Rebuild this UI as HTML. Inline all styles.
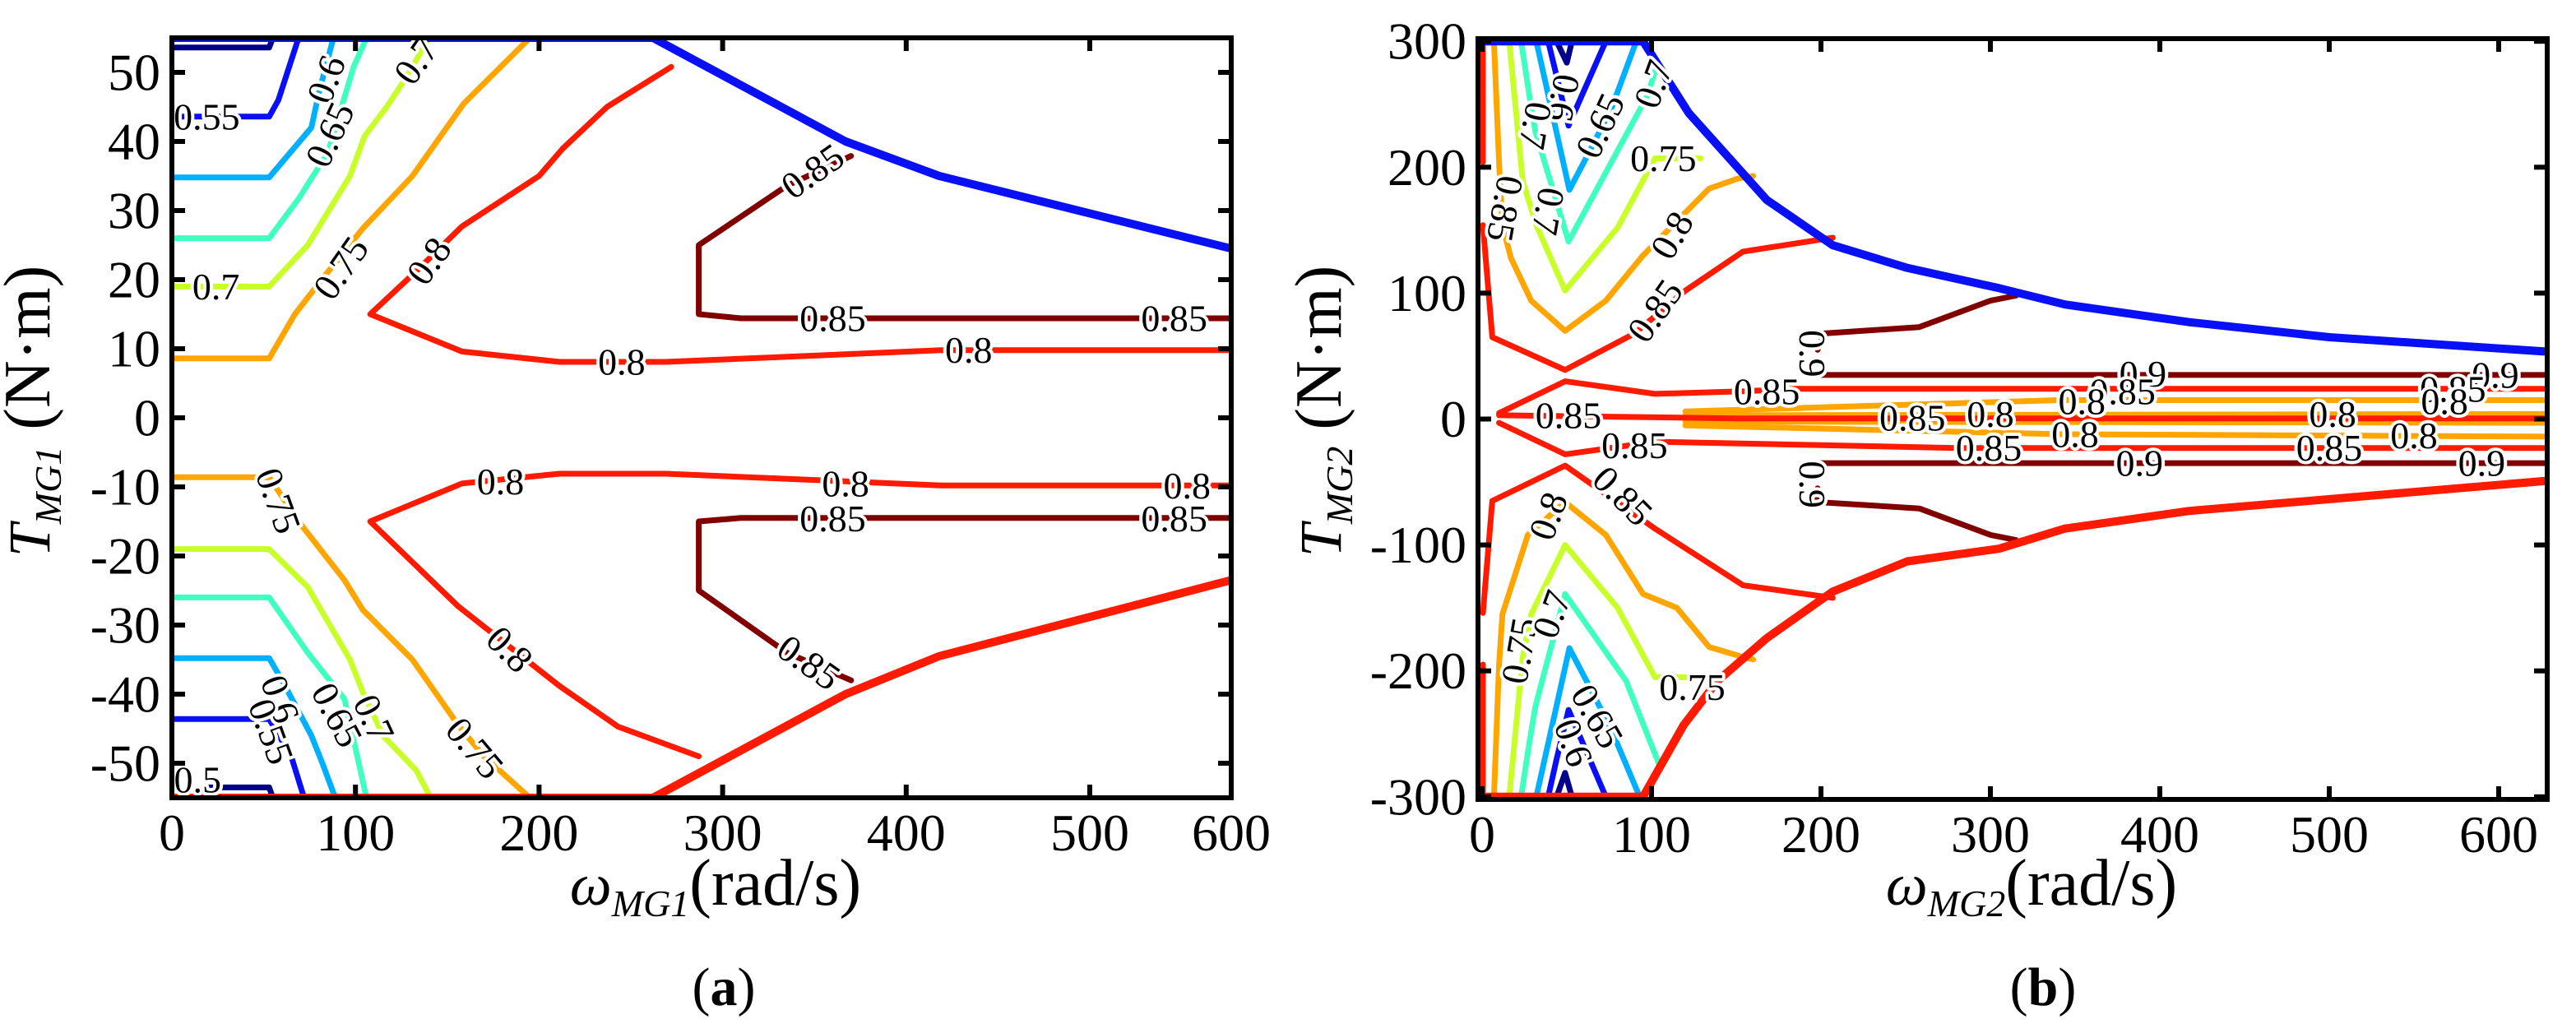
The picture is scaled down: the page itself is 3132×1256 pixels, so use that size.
<!DOCTYPE html>
<html><head><meta charset="utf-8">
<style>
html,body{margin:0;padding:0;background:#fff;}
svg{display:block;}
svg, svg text{font-family:"Liberation Serif","Times New Roman",Times,serif;}
text{fill:#000;}
.tick{font-size:64px;}
.cl{font-size:46px;paint-order:stroke;stroke:#fff;stroke-width:8px;stroke-linejoin:round;}
</style></head>
<body>
<svg id="fig" width="3132" height="1256" viewBox="0 0 3132 1256" xmlns="http://www.w3.org/2000/svg" font-family="Liberation Serif, Times New Roman, serif">
<defs>
<clipPath id="clipA"><rect x="209" y="46" width="1288" height="924"/></clipPath>
<clipPath id="clipB"><rect x="1797" y="47" width="1300" height="925"/></clipPath>
</defs>
<g id="panelA"></g>
<g id="panelB"></g>

<text x="60" y="500" transform="rotate(-90 60 500)" text-anchor="middle" font-size="72" font-family="Liberation Serif, serif"><tspan font-style="italic">T</tspan><tspan font-style="italic" font-size="46" dy="14">MG1</tspan><tspan dy="-14" font-size="80"> (N·m)</tspan></text>
<text x="870" y="1100" text-anchor="middle" font-size="72" font-family="Liberation Serif, serif"><tspan font-style="italic">ω</tspan><tspan font-style="italic" font-size="46" dy="14">MG1</tspan><tspan dy="-14" font-size="80">(rad/s)</tspan></text>
<text x="880" y="1222" text-anchor="middle" font-size="66" font-family="Liberation Serif, serif">(<tspan font-weight="bold">a</tspan>)</text>

<text x="1630" y="500" transform="rotate(-90 1630 500)" text-anchor="middle" font-size="72" font-family="Liberation Serif, serif"><tspan font-style="italic">T</tspan><tspan font-style="italic" font-size="46" dy="14">MG2</tspan><tspan dy="-14" font-size="80"> (N·m)</tspan></text>
<text x="2470" y="1100" text-anchor="middle" font-size="72" font-family="Liberation Serif, serif"><tspan font-style="italic">ω</tspan><tspan font-style="italic" font-size="46" dy="14">MG2</tspan><tspan dy="-14" font-size="80">(rad/s)</tspan></text>
<text x="2484" y="1222" text-anchor="middle" font-size="66" font-family="Liberation Serif, serif">(<tspan font-weight="bold">b</tspan>)</text>
</svg>
<script>
// ---------- Panel A data ----------
const aXTicks = [0,100,200,300,400,500,600];
const aYTicks = [-50,-40,-30,-20,-10,0,10,20,30,40,50];
const aLevels = [0.5,0.55,0.6,0.65,0.7,0.75,0.8,0.85];
const aBoundTop = [[0,55],[262,55],[367,40],[418,35],[577,24.5]];
const aBoundBot = [[0,-55],[262,-55],[367,-40],[418,-34.5],[577,-23.5]];
const aContours = [
 [0.5,[[0,53.6],[53,53.6],[55,55]]],
 [0.5,[[19,-53.5],[53,-53.5],[55,-55]]],
 [0.55,[[0,43.6],[53,43.6],[58,46],[69,55]]],
 [0.55,[[0,-43.6],[53,-43.6],[65,-49],[72,-55]]],
 [0.6,[[0,34.8],[53,34.8],[76,42],[80,47],[88,55]]],
 [0.6,[[0,-34.8],[53,-34.8],[60,-38],[76,-46],[82,-50],[89,-55]]],
 [0.65,[[0,26],[53,26],[69,31.7],[85,38.4],[99,50.8],[106,55]]],
 [0.65,[[0,-26],[53,-26],[74,-34],[94,-40.7],[101,-49],[106,-55]]],
 [0.7,[[0,19],[53,19],[74,25],[97,35],[105,40.8],[117,45],[127,49],[140,55]]],
 [0.7,[[0,-19],[53,-19],[74,-24.5],[97,-35],[104,-39.7],[115,-46],[133,-51],[141,-55]]],
 [0.75,[[0,8.6],[53,8.6],[67,15],[81,19.8],[104,27.4],[131,35],[159,45.5],[195,55]]],
 [0.75,[[0,-8.6],[53,-8.6],[69,-15],[94,-23.5],[104,-27.8],[131,-35],[156,-44.5],[170,-49],[195,-55]]],
 [0.8,[[272,50.8],[237,45],[213,39],[200,35],[158,27.7],[133,21.2],[108,15],[158,9.6],[211,8.1],[269,8.1],[420,9.8],[577,9.8]]],
 [0.8,[[287,-49],[243,-44.7],[211,-38.8],[156,-27.3],[108,-15],[158,-9.5],[211,-8.1],[269,-8.1],[420,-9.8],[577,-9.8]]],
 [0.85,[[370,37.9],[335,33.6],[287,25],[287,15],[310,14.4],[577,14.4]]],
 [0.85,[[370,-38],[335,-34],[287,-25],[287,-15],[310,-14.5],[577,-14.5]]]
];
const aLabels = [
 [19,43.6,'0.55',0],[84,49,'0.6',-70],[86,41,'0.65',-65],[133,51.7,'0.7',-55],[24,19,'0.7',0],
 [92,21.7,'0.75',-55],[140,22.7,'0.8',-55],[349,35.7,'0.85',-35],[360,14.4,'0.85',0],[546,14.4,'0.85',0],
 [245,8.1,'0.8',0],[434,9.8,'0.8',0],[179,-9.2,'0.8',0],[367,-9.5,'0.8',0],[553,-9.8,'0.8',0],
 [360,-14.6,'0.85',0],[546,-14.6,'0.85',0],[58,-12,'0.75',70],[184,-33.5,'0.8',45],[347,-35.4,'0.85',35],
 [59,-40.7,'0.6',70],[54,-45.4,'0.55',70],[90,-43,'0.65',62],[110,-43.5,'0.7',65],[165,-47.8,'0.75',50],[14,-52.4,'0.5',0]
];
// ---------- Panel B data ----------
const bXTicks = [0,100,200,300,400,500,600];
const bYTicks = [-300,-200,-100,0,100,200,300];
const bLevels = [0.55,0.6,0.65,0.7,0.75,0.8,0.85,0.9];
const bBoundTop = [[-3,300],[95,300],[122,243],[168,174],[207,138],[251,120],[305,104],[344,91],[417,77],[500,65],[629,53.5]];
const bBoundBot = [[-3,-300],[95,-300],[119,-243],[139,-208],[168,-174],[207,-137],[251,-113],[305,-103],[344,-87],[417,-73],[629,-49]];
const bContours = [
 [0.55,[[44,300],[50,283],[53,300]]],
 [0.55,[[44,-300],[49,-281],[53,-300]]],
 [0.6,[[39,300],[43.7,274],[51,233],[73,300]]],
 [0.6,[[39,-300],[44,-270],[51,-231],[73,-300]]],
 [0.65,[[32,300],[51.5,182],[63.6,213],[76.7,248],[91,300]]],
 [0.65,[[32,-300],[51.5,-182],[63.6,-213],[76.7,-248],[93,-300]]],
 [0.7,[[23,300],[28,256],[31.5,228],[51,141],[97.6,257],[103,280]]],
 [0.7,[[23,-300],[28,-256],[31.5,-228],[49,-139],[85,-208],[105,-276]]],
 [0.75,[[16,300],[24,189],[32,154],[49,102],[80,152],[102,207],[129,207]]],
 [0.75,[[16,-300],[24,-189],[29,-155],[49,-100],[80,-150],[102,-205],[124,-205]]],
 [0.8,[[7,300],[10,204],[12,154],[17,128],[29,94],[49,70],[73,94],[95,130],[134,183],[151,191],[160,193]]],
 [0.8,[[7,-300],[10,-195],[12,-155],[27,-92],[49,-66],[73,-92],[95,-139],[115,-150],[134,-181],[154,-189],[160,-191]]],
 [0.8,[[120,6],[340,15],[629,15]]],
 [0.8,[[120,3],[629,4]]],
 [0.8,[[120,-2],[629,-3]]],
 [0.8,[[120,-5],[340,-12],[629,-14]]],
 [0.85,[[0.5,300],[0.5,204]]],
 [0.85,[[0.5,154],[6,65],[49,39],[90,68],[120,102],[154,133],[207,144]]],
 [0.85,[[0.5,-300],[0.5,-195]]],
 [0.85,[[0.5,-154],[6,-65],[49,-37],[102,-87],[154,-132],[207,-142]]],
 [0.85,[[10,4.7],[49,30],[102,20],[154,22],[185,24],[629,24]]],
 [0.85,[[10,-3],[49,-28],[102,-18],[280,-23],[629,-23]]],
 [0.85,[[10,3],[150,0.5],[629,0.5]]],
 [0.9,[[195,35],[629,35]]],
 [0.9,[[195,-35],[629,-35]]],
 [0.9,[[198,55],[202,68],[258,73],[300,94],[315,98]]],
 [0.9,[[198,-55],[198,-66],[258,-71],[300,-92],[315,-96]]]
];
const bLabels = [
 [48,255,'0.6',100],[31.5,233,'0.7',100],[69.6,233,'0.65',-65],[101,266,'0.7',-70],[39,165,'0.7',100],
 [13.6,167,'0.85',100],[107,207,'0.75',0],[112,146,'0.8',-60],[102,86,'0.85',-55],
 [195,52,'0.9',90],[390,36,'0.9',0],[598,35,'0.9',0],[388,-35,'0.9',0],[590,-35,'0.9',0],[195,-52,'0.9',90],
 [168,22,'0.85',0],[378,22,'0.85',0],[573,24,'0.85',0],[90,-21,'0.85',0],[299,-23,'0.85',0],[500,-23,'0.85',0],
 [51,3,'0.85',0],[254,1,'0.85',0],[300,4,'0.8',0],[502,4,'0.8',0],[354,14,'0.8',0],[568,14,'0.8',0],
 [350,-12,'0.8',0],[550,-13,'0.8',0],
 [39,-77,'0.8',-70],[83,-61,'0.85',45],[22,-184,'0.75',-80],[41,-155,'0.7',-70],[68,-236,'0.65',60],[54,-257,'0.6',70],[124,-213,'0.75',0]
];

const colA = {0.5:'#00008b',0.55:'#0a10f5',0.6:'#00b0ff',0.65:'#40ffc0',0.7:'#c8ff2a',0.75:'#ffa500',0.8:'#ff1a00',0.85:'#800000'};
const colB = {0.55:'#00008b',0.6:'#0a10f5',0.65:'#00b0ff',0.7:'#40ffc0',0.75:'#c8ff2a',0.8:'#ffa500',0.85:'#ff1a00',0.9:'#800000'};
const NS='http://www.w3.org/2000/svg';
const SERIF='Liberation Serif, Times New Roman, serif';

function mk(tag, attrs, parent){
  const e=document.createElementNS(NS,tag);
  for(const k in attrs) e.setAttribute(k,attrs[k]);
  parent.appendChild(e); return e;
}

function drawPanel(g, cfg){
  const X=cfg.x, Y=cfg.y;
  const cg=mk('g',{'clip-path':'url(#'+cfg.clip+')'},g);
  
  
  const pts=p=>p.map(q=>X(q[0]).toFixed(1)+','+Y(q[1]).toFixed(1)).join(' ');
  cfg.contours.forEach((c,i)=>{
    const pl=mk('polyline',{points:pts(c[1]),fill:'none',stroke:cfg.col[c[0]],'stroke-width':7,'stroke-linejoin':'round','stroke-linecap':'round'},cg);
    
    
  });
  const bt=mk('polyline',{points:pts(cfg.bTop),fill:'none',stroke:'#0a10f5','stroke-width':10,'stroke-linejoin':'round'},cg);
  
  
  const bb=mk('polyline',{points:pts(cfg.bBot),fill:'none',stroke:'#ff1a00','stroke-width':10,'stroke-linejoin':'round'},cg);
  
  
  cfg.labels.forEach(l=>{
    const x=X(l[0]), y=Y(l[1]);
    const t=mk('text',{x:x,y:y,'text-anchor':'middle','dominant-baseline':'central',class:'cl','font-family':SERIF,transform:'rotate('+l[3]+' '+x+' '+y+')'},g);
    t.textContent=l[2];
    
    
  });
  const L=cfg.box[0],T=cfg.box[1],R=cfg.box[2],B=cfg.box[3];
  const fr=mk('rect',{x:L,y:T,width:R-L,height:B-T,fill:'none',stroke:'#000','stroke-width':6},g);
  
  
  cfg.xt.forEach(v=>{
    const x=Math.min(X(v),R);
    if(x<R-2){
      mk('line',{x1:x,x2:x,y1:B,y2:B-16,stroke:'#000','stroke-width':6},g);
      mk('line',{x1:x,x2:x,y1:T,y2:T+16,stroke:'#000','stroke-width':6},g);
    }
    const t=mk('text',{x:x,y:B+64,'text-anchor':'middle',class:'tick','font-family':SERIF},g);
    t.textContent=v;
    
    
  });
  cfg.yt.forEach(v=>{
    const y=Y(v);
    mk('line',{x1:L,x2:L+16,y1:y,y2:y,stroke:'#000','stroke-width':6},g);
    mk('line',{x1:R,x2:R-16,y1:y,y2:y,stroke:'#000','stroke-width':6},g);
    const t=mk('text',{x:L-14,y:y,'text-anchor':'end','dominant-baseline':'central',class:'tick','font-family':SERIF},g);
    t.textContent=v;
    
    
  });
}

drawPanel(document.getElementById('panelA'),{
  id:'panel-a', clip:'clipA',
  x:v=>209+v*2.232, y:v=>508-v*8.4, box:[209,46,1497,970],
  contours:aContours, bTop:aBoundTop, bBot:aBoundBot, labels:aLabels, col:colA,
  xt:aXTicks, yt:aYTicks
});
drawPanel(document.getElementById('panelB'),{
  id:'panel-b', clip:'clipB',
  x:v=>1802+v*2.06, y:v=>509.5-v*1.531, box:[1797,47,3097,972],
  contours:bContours, bTop:bBoundTop, bBot:bBoundBot, labels:bLabels, col:colB,
  xt:bXTicks, yt:bYTicks
});
</script>
</body></html>
